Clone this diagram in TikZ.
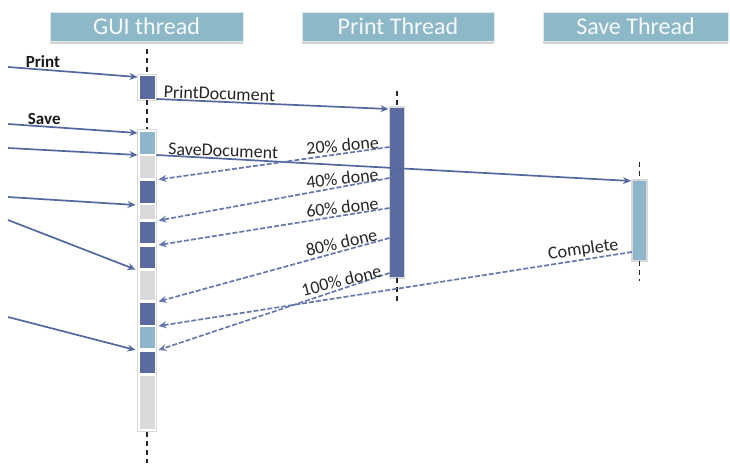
\documentclass[tikz,border=0pt]{standalone}
\usepackage{fontspec}
\setmainfont{Carlito}
\usetikzlibrary{arrows.meta,shadows,calc}
\definecolor{hdr}{HTML}{8DB8C8}
\definecolor{dk}{HTML}{5B6A9F}
\definecolor{lb}{HTML}{8FB5CD}
\definecolor{gr}{HTML}{DADADA}
\definecolor{arr}{HTML}{5468A0}
\definecolor{darr}{HTML}{6678AE}
\begin{document}
\begin{tikzpicture}[x=1pt,y=-1pt,
  hdrbox/.style={rectangle, fill=hdr, draw=white!70!hdr, line width=0.8pt, minimum height=29pt, inner sep=0, text=white!92!hdr, font=\fontsize{24}{26}\selectfont, drop shadow={shadow xshift=0pt, shadow yshift=-3pt, opacity=0.35, fill=gray}},
  blk/.style={rectangle, inner sep=0, outer sep=0, minimum width=15pt, fill=#1},
  frm/.style={rectangle, inner sep=0, outer sep=0, minimum width=19pt, fill=white, draw=gray!30, line width=0.8pt},
  life/.style={draw=black!85, line width=1.4pt, dash pattern=on 5pt off 4pt},
  sarr/.style={draw=arr, line width=1.7pt, -{Stealth[length=8pt,width=7pt]}},
  darr/.style={draw=darr, line width=1.7pt, dash pattern=on 5pt off 2pt, -{Stealth[length=8pt,width=7pt]}},
  lbl/.style={font=\fontsize{18}{20}\selectfont, text=black!85, inner sep=1pt},
  blbl/.style={font=\bfseries\fontsize{17}{19}\selectfont, text=black!90, inner sep=1pt},
]
\useasboundingbox (0,0) rectangle (730,465);
% headers
\node[hdrbox, minimum width=193pt] (h1) at (146.5,26.5) {GUI thread};
\node[hdrbox, minimum width=192pt] (h2) at (398,26.5) {Print Thread};
\node[hdrbox, minimum width=185pt] (h3) at (635.5,26.5) {Save Thread};
% GUI column
\node[frm, minimum height=26pt] (gAf) at (147,87.5) {};
\node[blk=dk, minimum height=23pt] (gA) at (147,87.5) {};
\node[frm, minimum height=302pt] (gcol) at (147,280.5) {};
\node[blk=lb, minimum height=22pt] (b1) at (147,143) {};
\node[blk=gr, minimum height=22pt] (b2) at (147,167) {};
\node[blk=dk, minimum height=22pt] (b3) at (147,192) {};
\node[blk=gr, minimum height=14pt] (b4) at (147,212) {};
\node[blk=dk, minimum height=21pt] (b5) at (147,232.5) {};
\node[blk=dk, minimum height=21pt] (b6) at (147,257.5) {};
\node[blk=gr, minimum height=29pt] (b7) at (147,285.5) {};
\node[blk=dk, minimum height=22pt] (b8) at (147,314) {};
\node[blk=lb, minimum height=21pt] (b9) at (147,337.5) {};
\node[blk=dk, minimum height=21pt] (b10) at (147,362.5) {};
\node[blk=gr, minimum height=53pt] (b11) at (147,402.5) {};
% Print and Save columns
\node[rectangle, inner sep=0, outer sep=0, minimum width=15pt, minimum height=171pt, fill=dk, draw=gray!30, line width=1.2pt] (pcol) at (397,192.5) {};
\node[rectangle, inner sep=0, outer sep=0, minimum width=15pt, minimum height=81pt, fill=lb, draw=gray!30, line width=1.2pt] (scol) at (639.5,220.5) {};
% lifelines
\coordinate (gt) at (147,49);
\coordinate (gb) at (147,463);
\coordinate (pt) at (397,91);
\coordinate (pb) at (397,304);
\coordinate (st) at (639.5,162);
\coordinate (sb) at (639.5,281);
\draw[life] (gt) -- (gAf.north);
\draw[life] (gAf.south) -- (gcol.north);
\draw[life] (gcol.south) -- (gb);
\draw[life] (pt) -- (pcol.north);
\draw[life] (pcol.south) -- (pb);
\draw[life] (st) -- (scol.north);
\draw[life] (scol.south) -- (sb);
% incoming
\coordinate (i1) at (8,67);
\coordinate (i2) at (8,124);
\coordinate (i3) at (8,148);
\coordinate (i4) at (8,197);
\coordinate (i5) at (8,220);
\coordinate (i6) at (8,317);
\draw[sarr] (i1) -- node[blbl, above, pos=0.27] {Print} ($(gA.north west)+(-2,1)$);
\draw[sarr] (i2) -- node[blbl, above, pos=0.28] {Save} ($(b1.north west)+(-2,1)$);
\draw[sarr] (i3) -- ($(b1.south west)+(-2,1)$);
\draw[sarr] (i4) -- ($(b3.south west)+(-4,2)$);
\draw[sarr] (i5) -- ($(b6.south west)+(-4,1.5)$);
\draw[sarr] (i6) -- ($(b9.south west)+(-4,2)$);
% outgoing
\draw[sarr] ($(gA.south east)+(2,0)$) -- node[lbl, above, rotate=-2, pos=0.27] {PrintDocument} ($(pcol.north west)+(-1,2)$);
\draw[sarr] ($(b1.south east)+(2,1)$) -- node[lbl, above, rotate=-2, pos=0.14] {SaveDocument} ($(scol.north west)+(-1,1)$);
% returns
\draw[darr] ($(pcol.north west)+(0,40)$) -- node[lbl, above, rotate=5, pos=0.2] {20\% done} ($(b2.south east)+(4,1.5)$);
\draw[darr] ($(pcol.north west)+(0,71)$) -- node[lbl, above, rotate=7, pos=0.2] {40\% done} ($(b4.south east)+(4,1.5)$);
\draw[darr] ($(pcol.north west)+(0,101)$) -- node[lbl, above, rotate=7, pos=0.2] {60\% done} ($(b5.south east)+(4,2)$);
\draw[darr] ($(pcol.north west)+(0,131)$) -- node[lbl, above, rotate=13, pos=0.2] {80\% done} ($(b7.south east)+(4,1.5)$);
\draw[darr] ($(pcol.north west)+(0,166)$) -- node[lbl, above, rotate=14, pos=0.2] {100\% done} ($(b9.south east)+(4,2)$);
\draw[darr] ($(scol.north west)+(0,72)$) -- node[lbl, above, rotate=8, pos=0.1] {Complete} ($(b8.south east)+(4,1)$);
\end{tikzpicture}
\end{document}
